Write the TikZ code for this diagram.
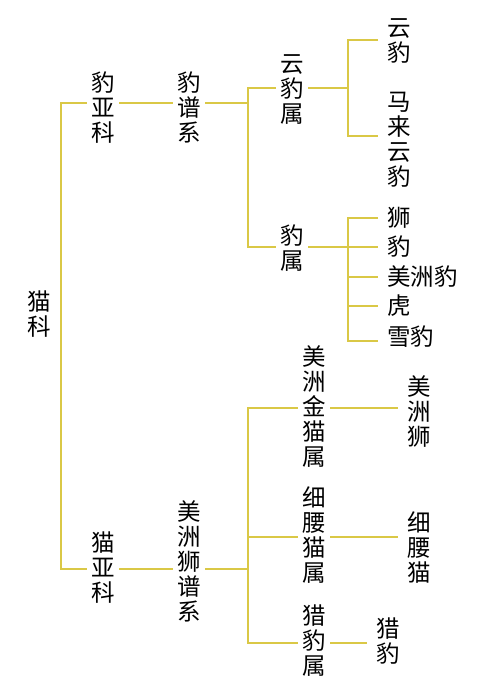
\documentclass[tikz,border=0pt]{standalone}
\usepackage{fontspec}
\newfontfamily\cjk{Noto Sans CJK SC}
\definecolor{linkcol}{RGB}{218,200,70}
\tikzset{
  lbl/.style={font=\cjk\fontsize{23.5}{25}\selectfont, align=center, inner xsep=4.5pt, inner ysep=0pt},
  leaf/.style={lbl, anchor=west, inner xsep=9pt},
  link/.style={draw=linkcol, line width=1.8pt}
}
\begin{document}
\begin{tikzpicture}[x=1pt,y=-1pt]
\useasboundingbox (0,0) rectangle (494,700);
% nodes
\node[lbl] (root) at (39,314) {猫\\科};
\node[lbl] (sub1) at (103,108) {豹\\亚\\科};
\node[lbl] (lin1) at (189,107) {豹\\谱\\系};
\node[lbl] (g1) at (292,90) {云\\豹\\属};
\node[lbl] (g2) at (292,248) {豹\\属};
\node[leaf] (s1) at (378,41) {云\\豹};
\node[leaf] (s2) at (378,140) {马\\来\\云\\豹};
\node[leaf] (s3) at (378,218) {狮};
\node[leaf] (s4) at (378,247) {豹};
\node[leaf] (s5) at (378,277) {美洲豹};
\node[leaf] (s6) at (378,306) {虎};
\node[leaf] (s7) at (378,337) {雪豹};
\node[lbl] (sub2) at (103,568) {猫\\亚\\科};
\node[lbl] (lin2) at (189,561) {美\\洲\\狮\\谱\\系};
\node[lbl] (g3) at (314,407) {美\\洲\\金\\猫\\属};
\node[lbl] (g4) at (314,535) {细\\腰\\猫\\属};
\node[lbl] (g5) at (314,641) {猎\\豹\\属};
\node[leaf] (s8) at (398,412) {美\\洲\\狮};
\node[leaf] (s9) at (398,547) {细\\腰\\猫};
\node[leaf] (s10) at (367,641) {猎\\豹};
% junctions
\coordinate (rA) at (61,103);
\coordinate (rB) at (61,569);
\coordinate (bA) at (248,88);
\coordinate (bM) at (248,103);
\coordinate (bB) at (248,247);
\coordinate (cA) at (348,40);
\coordinate (cM) at (348,88);
\coordinate (cB) at (348,136);
\coordinate (dA) at (348,218);
\coordinate (dE) at (348,341);
\coordinate (eA) at (248,408);
\coordinate (eB) at (248,537);
\coordinate (eM) at (248,569);
\coordinate (eC) at (248,643);
% connectors
\draw[link] (sub1.west |- rA) -- (rA) -- (rB) -- (sub2.west |- rB);
\draw[link] (sub1.east |- rA) -- (lin1.west |- rA);
\draw[link] (lin1.east |- bM) -- (bM);
\draw[link] (g1.west |- bA) -- (bA) -- (bB) -- (g2.west |- bB);
\draw[link] (g1.east |- cM) -- (cM);
\draw[link] (s1.west |- cA) -- (cA) -- (cB) -- (s2.west |- cB);
\draw[link] (g2.east |- s4) -- (s4.west);
\draw[link] (s3.west) -- (dA) -- (dE) -- (s7.west |- dE);
\draw[link] (dA |- s5) -- (s5.west);
\draw[link] (dA |- s6) -- (s6.west);
\draw[link] (sub2.east |- rB) -- (lin2.west |- rB);
\draw[link] (lin2.east |- eM) -- (eM);
\draw[link] (g3.west |- eA) -- (eA) -- (eC) -- (g5.west |- eC);
\draw[link] (eB) -- (g4.west |- eB);
\draw[link] (g3.east |- eA) -- (s8.west |- eA);
\draw[link] (g4.east |- eB) -- (s9.west |- eB);
\draw[link] (g5.east |- eC) -- (s10.west |- eC);
\end{tikzpicture}
\end{document}
